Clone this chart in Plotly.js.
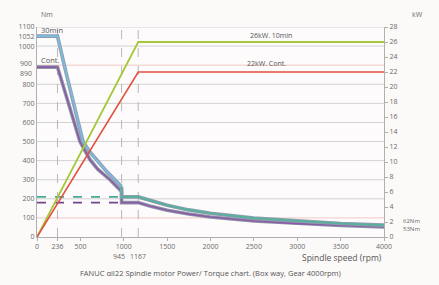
<!DOCTYPE html>
<html><head><meta charset="utf-8">
<script src="https://cdn.plot.ly/plotly-3.0.1.min.js"></script>
<style>html,body{margin:0;padding:0;background:#fcf9f9;}#c{width:439px;height:285px;}</style>
</head><body><div id="c"></div>
<script>
// ---- data ----
const s3Rpm   = [0, 236, 330, 426, 530, 610, 690, 800, 920, 975];
const s3Nm    = [1052, 1052, 870, 700, 500, 445, 400, 345, 290, 263];
const s3bRpm  = [975, 975, 1167, 1300, 1500, 1750, 2000, 2500, 3000, 3500, 4000];
const s3bNm   = [263, 210, 210, 192, 166, 142, 124, 99, 83, 71, 62];
const contRpm = [0, 236, 360, 495, 611, 700, 841, 910, 975, 975, 1167, 1300, 1500, 1750, 2000, 2500, 3000, 3500, 4000];
const contNm  = [890, 890, 705, 500, 405, 355, 300, 268, 238, 180, 180, 162, 140, 120, 105, 84, 70, 60, 53];
const pw26Rpm = [0, 1167, 4000];
const pw26Kw  = [0, 26, 26];
const pw22Rpm = [0, 1167, 4000];
const pw22Kw  = [0, 22, 22];
const dashRpm = [0, 975];
const dashS3  = [210, 210];
const dashCont= [180, 180];
const vLines  = [236, 975, 1167];
const gridNm  = [100, 200, 300, 400, 500, 600, 700, 800, 900, 1000, 1100];
const xTicks  = [0, 236, 500, 1000, 1500, 2000, 2500, 3000, 3500, 4000];
const xSubTicks = [945, 1167];
const nmTicks = [0, 100, 200, 300, 400, 500, 600, 700, 800, 1000, 1052, 1100];
const nmExtra = [900, 890];
const kwTicks = [0, 2, 4, 6, 8, 10, 12, 14, 16, 18, 20, 22, 24, 26, 28];

const F = "Open Sans, DejaVu Sans, sans-serif";
const tc = "#6a6a6a";

const traces = [
  {x: dashRpm, y: dashS3, mode: "lines", line: {color: "#4aa896", width: 1.6, dash: "dash"}, hoverinfo: "skip"},
  {x: dashRpm, y: dashCont, mode: "lines", line: {color: "#70468f", width: 1.6, dash: "dash"}, hoverinfo: "skip"},
  {x: pw26Rpm, y: pw26Kw, yaxis: "y2", mode: "lines", line: {color: "#a5c83a", width: 1.8}},
  {x: pw22Rpm, y: pw22Kw, yaxis: "y2", mode: "lines", line: {color: "#e2503e", width: 1.6}},
  {x: contRpm, y: contNm, mode: "lines", line: {color: "#8f96a8", width: 3.6}},
  {x: contRpm, y: contNm, mode: "lines", line: {color: "#8a5ca6", width: 1.6}},
  {x: s3Rpm, y: s3Nm, mode: "lines", line: {color: "#8f9cad", width: 3.6}},
  {x: s3Rpm, y: s3Nm, mode: "lines", line: {color: "#7cbde4", width: 1.6}},
  {x: s3bRpm, y: s3bNm, mode: "lines", line: {color: "#8f9cad", width: 3.6}},
  {x: s3bRpm, y: s3bNm, mode: "lines", line: {color: "#52b39c", width: 1.6}}
];

const shapes = [];
gridNm.forEach(v => shapes.push({type: "line", xref: "x", yref: "y", x0: 0, x1: 4000, y0: v, y1: v,
  line: {color: (v === 100 || v === 900) ? "#efc9c4" : "#d2d2d2", width: 1}, layer: "below"}));
vLines.forEach(v => shapes.push({type: "line", xref: "x", yref: "y", x0: v, x1: v, y0: 0, y1: 1100,
  line: {color: "#b8b8b8", width: 1, dash: "dash"}, layer: "below"}));

const ann = [];
function A(o){ ann.push(Object.assign({showarrow: false, font: {family: F, size: 7, color: tc}}, o)); }
xSubTicks.forEach(v => A({x: v, y: 0, xref: "x", yref: "y", text: String(v), yanchor: "top", yshift: -13}));
A({x: 0, xref: "x", y: nmExtra[0], yref: "y", text: String(nmExtra[0]), xanchor: "right", xshift: -3, yshift: 2});
A({x: 0, xref: "x", y: nmExtra[1], yref: "y", text: String(nmExtra[1]), xanchor: "right", xshift: -3, yshift: -6});
A({x: 0, xref: "x", y: 1100, yref: "y", text: "Nm", xanchor: "left", yanchor: "bottom", xshift: 2, yshift: 6});
A({x: 4000, xref: "x", y: 28, yref: "y2", text: "kW", xanchor: "left", yanchor: "bottom", xshift: 26, yshift: 6});
A({x: 20, xref: "x", y: s3Nm[0], yref: "y", text: "30min", xanchor: "left", yanchor: "bottom", yshift: -1, font: {family: F, size: 7.5, color: "#555"}});
A({x: 20, xref: "x", y: contNm[0], yref: "y", text: "Cont.", xanchor: "left", yanchor: "bottom", yshift: 0, font: {family: F, size: 7.5, color: "#555"}});
A({x: 2700, xref: "x", y: pw26Kw[2], yref: "y2", text: "26kW. 10min", yanchor: "bottom", yshift: 0, font: {family: F, size: 7, color: "#555"}});
A({x: 2650, xref: "x", y: pw22Kw[2], yref: "y2", text: "22kW. Cont.", yanchor: "bottom", yshift: 2, font: {family: F, size: 7, color: "#555"}});
A({x: 4000, xref: "x", y: s3bNm[s3bNm.length-1], yref: "y", text: s3bNm[s3bNm.length-1] + "Nm", xanchor: "left", xshift: 17, yshift: 4, font: {family: F, size: 6, color: tc}});
A({x: 4000, xref: "x", y: contNm[contNm.length-1], yref: "y", text: contNm[contNm.length-1] + "Nm", xanchor: "left", xshift: 17, yshift: -2, font: {family: F, size: 6, color: tc}});
A({x: 4000, xref: "x", y: 0, yref: "y", text: "Spindle speed (rpm)", xanchor: "right", yanchor: "top", yshift: -13, font: {family: F, size: 8.5, color: "#555"}});
A({x: 0.5, xref: "paper", y: 0, yref: "y", text: "FANUC αiI22 Spindle motor Power/ Torque chart. (Box way, Gear 4000rpm)", yanchor: "top", yshift: -29, font: {family: F, size: 7.5, color: "#555"}});

const layout = {
  width: 439, height: 285,
  margin: {l: 37, r: 55, t: 27, b: 48},
  paper_bgcolor: "#fcf9f9", plot_bgcolor: "#fdfbfb",
  showlegend: false,
  xaxis: {range: [0, 4000], tickvals: xTicks, ticktext: xTicks.map(String), showgrid: false, zeroline: false,
    showline: true, linecolor: "#b0b0b0", ticks: "outside", ticklen: 3, tickcolor: "#b0b0b0",
    tickfont: {family: F, size: 7, color: tc}},
  yaxis: {range: [0, 1100], tickvals: nmTicks, ticktext: nmTicks.map(String), showgrid: false, zeroline: false,
    showline: true, linecolor: "#b0b0b0", ticks: "", tickfont: {family: F, size: 7, color: tc}},
  yaxis2: {range: [0, 28], overlaying: "y", side: "right", tickvals: kwTicks, ticktext: kwTicks.map(String),
    showgrid: false, zeroline: false, showline: true, linecolor: "#b0b0b0", ticks: "outside", ticklen: 3,
    tickcolor: "#b0b0b0", tickfont: {family: F, size: 7, color: tc}},
  shapes: shapes, annotations: ann
};
Plotly.newPlot("c", traces, layout, {staticPlot: true, displayModeBar: false});
</script></body></html>
